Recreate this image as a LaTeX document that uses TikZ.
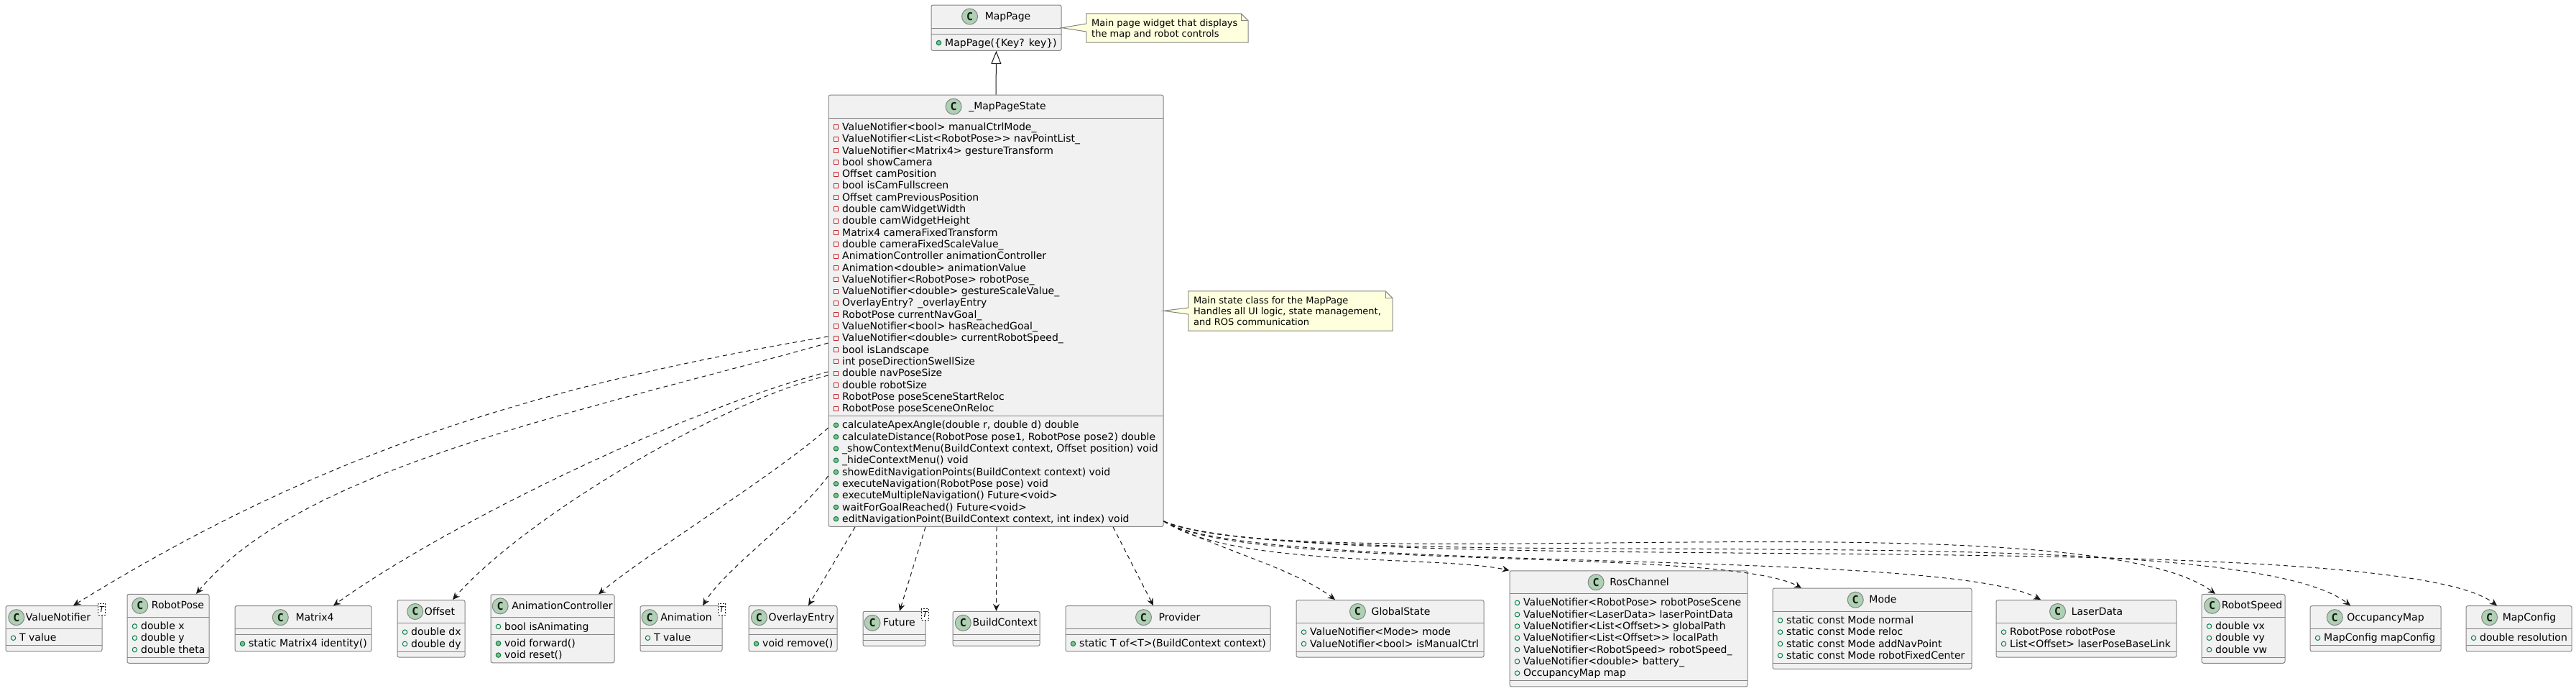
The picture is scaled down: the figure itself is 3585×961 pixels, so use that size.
\documentclass[tikz,border=0pt]{standalone}
\usepackage{fontspec}
\setmainfont{DejaVu Sans}
\newfontfamily\badgefont{DejaVu Sans Mono}
\usetikzlibrary{arrows.meta,fit,calc}
\definecolor{cfill}{HTML}{F1F1F1}
\definecolor{cborder}{HTML}{858585}
\definecolor{cdark}{HTML}{181818}
\definecolor{cbadge}{HTML}{ADD1B2}
\definecolor{cpriv}{HTML}{C82930}
\definecolor{cpubline}{HTML}{038048}
\definecolor{cpubfill}{HTML}{84BE84}
\definecolor{cnote}{HTML}{FEFFDD}
\tikzset{
 clsbox/.style={draw=cborder, fill=cfill, line width=1pt, rounded corners=2.5pt, inner sep=0pt},
 sepline/.style={draw=cborder, line width=1pt},
 clstitle/.style={inner sep=0pt, font=\fontsize{14pt}{16pt}\selectfont, text=black},
 badge/.style={circle, draw=cborder, fill=cbadge, line width=1pt, minimum size=22pt, inner sep=0pt, font=\badgefont\bfseries\fontsize{15pt}{15pt}\selectfont, text=cdark},
 member/.style={anchor=base west, inner sep=0pt, font=\fontsize{14pt}{16pt}\selectfont, text=black},
 privicon/.style={rectangle, draw=cpriv, line width=1pt, minimum size=6pt, inner sep=0pt},
 pubfield/.style={circle, draw=cpubline, line width=1pt, minimum size=6.5pt, inner sep=0pt},
 pubmeth/.style={circle, draw=cpubline, fill=cpubfill, line width=1pt, minimum size=6.5pt, inner sep=0pt},
 tmplbox/.style={draw=cdark, dash pattern=on 2pt off 2pt, fill=white, line width=0.8pt, minimum width=10pt, minimum height=16pt, inner sep=0pt, font=\itshape\fontsize{11pt}{12pt}\selectfont},
 dep/.style={draw=cdark, line width=1pt, dash pattern=on 6pt off 5pt, -{Stealth[length=10pt,width=9pt,inset=3.5pt]}},
 inherit/.style={draw=cdark, line width=1pt, -{Triangle[length=18pt,width=14pt,fill=white]}},
 notefit/.style={inner sep=0pt},
 notebg/.style={draw=cborder, fill=cnote, line width=1pt, line join=miter},
 foldline/.style={draw=cborder, line width=1pt},
 notetext/.style={anchor=base west, inner sep=0pt, font=\fontsize{13pt}{15pt}\selectfont, text=black},
}
\def\umlshift{0}
% [gap]{name}{x1}{x2}{center y}{n attrs}{n methods}{title}
\newcommand{\clsbox}[8][8]{%
  \pgfmathsetmacro\umlhA{ifthenelse(#6==0,8,16.3*#6+7)}%
  \pgfmathsetmacro\umlhM{ifthenelse(#7==0,8,16.3*#7+7)}%
  \pgfmathsetmacro\umlH{32+\umlhA+\umlhM}%
  \pgfmathsetmacro\umlcT{#5-\umlH/2}%
  \pgfmathsetmacro\umlcB{#5+\umlH/2}%
  \pgfmathsetmacro\umlsAtmp{\umlcT+32}%
  \pgfmathsetmacro\umlsBtmp{\umlsAtmp+\umlhA}%
  \pgfmathsetmacro\umlcX{(#3+#4)/2+\umlshift+(22+#1)/2}%
  \xdef\umlname{#2}\xdef\umlxl{#3}\xdef\umlsA{\umlsAtmp}\xdef\umlsB{\umlsBtmp}%
  \node[clsbox, fit={(#3,\umlcT) (#4,\umlcB)}] (#2) {};
  \draw[sepline] (#3,\umlsA) -- (#4,\umlsA);
  \draw[sepline] (#3,\umlsB) -- (#4,\umlsB);
  \node[clstitle, anchor=base] (#2-t) at (\umlcX,\umlcT+20.5) {#8};
  \node[badge] (#2-c) at ([xshift=-#1pt-11pt, yshift=4.5pt]#2-t.base west) {C};
}
\newcommand{\clsattrs}[2]{%
  \foreach \mtext [count=\i from 0] in {#2} {%
    \pgfmathsetmacro\umlyy{\umlsA+17.2+16.3*\i}%
    \node[#1] (\umlname-ai\i) at (\umlxl+10.5,\umlyy-4.6) {};%
    \node[member] (\umlname-a\i) at (\umlxl+19,\umlyy) {\mtext};%
  }%
}
\newcommand{\clsmeths}[1]{%
  \foreach \mtext [count=\i from 0] in {#1} {%
    \pgfmathsetmacro\umlyy{\umlsB+17.2+16.3*\i}%
    \node[pubmeth] (\umlname-mi\i) at (\umlxl+10.5,\umlyy-4.6) {};%
    \node[member] (\umlname-m\i) at (\umlxl+19,\umlyy) {\mtext};%
  }%
}
\newcommand{\clstmpl}[1]{\node[tmplbox] (#1-T) at ([xshift=-1pt,yshift=-5pt]#1.north east) {T};}

\begin{document}
\begin{tikzpicture}[x=1pt,y=-1pt]
\useasboundingbox (0,0) rectangle (3585,961);
\fill[white] (0,0) rectangle (3585,961);

% ---- top classes
\clsbox[10]{mp}{1296}{1477}{38.65}{0}{1}{MapPage}
\clsmeths{MapPage(\{Key? key\})}

\clsbox[10]{mps}{1153}{1619}{432.3}{25}{9}{\_MapPageState}
\clsattrs{privicon}{ValueNotifier<bool> manualCtrlMode\_, ValueNotifier<List<RobotPose>{}> navPointList\_, ValueNotifier<Matrix4> gestureTransform, bool showCamera, Offset camPosition, bool isCamFullscreen, Offset camPreviousPosition, double camWidgetWidth, double camWidgetHeight, Matrix4 cameraFixedTransform, double cameraFixedScaleValue\_, AnimationController animationController, Animation<double> animationValue, ValueNotifier<RobotPose> robotPose\_, ValueNotifier<double> gestureScaleValue\_, OverlayEntry? \_overlayEntry, RobotPose currentNavGoal\_, ValueNotifier<bool> hasReachedGoal\_, ValueNotifier<double> currentRobotSpeed\_, bool isLandscape, int poseDirectionSwellSize, double navPoseSize, double robotSize, RobotPose poseSceneStartReloc, RobotPose poseSceneOnReloc}
\clsmeths{{calculateApexAngle(double r, double d) double}, {calculateDistance(RobotPose pose1, RobotPose pose2) double}, {\_showContextMenu(BuildContext context, Offset position) void}, \_hideContextMenu() void, {showEditNavigationPoints(BuildContext context) void}, executeNavigation(RobotPose pose) void, executeMultipleNavigation() Future<void>, waitForGoalReached() Future<void>, {editNavigationPoint(BuildContext context, int index) void}}

% ---- notes
\node[notefit, fit={(1512,19) (1737,59)}] (n1) {};
\path[notebg] (n1.north west) -- ([xshift=-10pt]n1.north east) -- ([yshift=-10pt]n1.north east) -- (n1.south east) -- (n1.south west) -- ([yshift=-5pt]n1.west) -- (mp.east) -- ([yshift=6pt]n1.west) -- cycle;
\draw[foldline] ([xshift=-10pt]n1.north east) -- ([xshift=-10pt,yshift=-10pt]n1.north east) -- ([yshift=-10pt]n1.north east);
\node[notetext] (n1a) at (1519,36.5) {Main page widget that displays};
\node[notetext] (n1b) at (1519,51.5) {the map and robot controls};

\node[notefit, fit={(1654,405) (1938,460)}] (n2) {};
\path[notebg] (n2.north west) -- ([xshift=-10pt]n2.north east) -- ([yshift=-10pt]n2.north east) -- (n2.south east) -- (n2.south west) -- ([yshift=-4.5pt]n2.west) -- (mps.east) -- ([yshift=4.5pt]n2.west) -- cycle;
\draw[foldline] ([xshift=-10pt]n2.north east) -- ([xshift=-10pt,yshift=-10pt]n2.north east) -- ([yshift=-10pt]n2.north east);
\node[notetext] (n2a) at (1661,422) {Main state class for the MapPage};
\node[notetext] (n2b) at (1661,437) {Handles all UI logic, state management,};
\node[notetext] (n2c) at (1661,452) {and ROS communication};

% ---- bottom row
\def\umlshift{-6}
\clsbox[2]{vn}{8}{142}{874.3}{1}{0}{ValueNotifier}
\clsattrs{pubfield}{T value}
\clstmpl{vn}
\def\umlshift{0}

\clsbox[5]{rp}{177}{291}{874.3}{3}{0}{RobotPose}
\clsattrs{pubfield}{double x, double y, double theta}

\clsbox[10]{m4}{327}{517}{874.3}{0}{1}{Matrix4}
\clsmeths{static Matrix4 identity()}

\clsbox[2]{of}{553}{647}{874.3}{2}{0}{Offset}
\clsattrs{pubfield}{double dx, double dy}

\clsbox[5]{ac}{683}{855}{874.3}{1}{2}{AnimationController}
\clsattrs{pubfield}{bool isAnimating}
\clsmeths{void forward(), void reset()}

\def\umlshift{-6}
\clsbox[4]{an}{891}{1005}{874.3}{1}{0}{Animation}
\clsattrs{pubfield}{T value}
\clstmpl{an}
\def\umlshift{0}

\clsbox[2]{oe}{1042}{1165}{874.3}{0}{1}{OverlayEntry}
\clsmeths{void remove()}

\def\umlshift{-6}
\clsbox[4]{fu}{1201}{1288}{874.3}{0}{0}{Future}
\clstmpl{fu}
\def\umlshift{0}

\clsbox[2]{bc}{1326}{1447}{874.3}{0}{0}{BuildContext}

\clsbox[10]{pr}{1483}{1768}{874.3}{0}{1}{Provider}
\clsmeths{static T of<T>(BuildContext context)}

\clsbox[8]{gs}{1804}{2065}{874.3}{2}{0}{GlobalState}
\clsattrs{pubfield}{ValueNotifier<Mode> mode, ValueNotifier<bool> isManualCtrl}

\clsbox[8]{rc}{2101}{2432}{874.3}{7}{0}{RosChannel}
\clsattrs{pubfield}{ValueNotifier<RobotPose> robotPoseScene, ValueNotifier<LaserData> laserPointData, ValueNotifier<List<Offset>{}> globalPath, ValueNotifier<List<Offset>{}> localPath, ValueNotifier<RobotSpeed> robotSpeed\_, ValueNotifier<double> battery\_, OccupancyMap map}

\clsbox[8]{mo}{2467}{2744}{874.3}{4}{0}{Mode}
\clsattrs{pubfield}{static const Mode normal, static const Mode reloc, static const Mode addNavPoint, static const Mode robotFixedCenter}

\clsbox[8]{ld}{2778}{3029}{874.3}{2}{0}{LaserData}
\clsattrs{pubfield}{RobotPose robotPose, List<Offset> laserPoseBaseLink}

\clsbox[2]{rs}{3064}{3180}{874.3}{3}{0}{RobotSpeed}
\clsattrs{pubfield}{double vx, double vy, double vw}

\clsbox[6]{om}{3215}{3397}{874.3}{1}{0}{OccupancyMap}
\clsattrs{pubfield}{MapConfig mapConfig}

\clsbox[7]{mc}{3432}{3579}{874.3}{1}{0}{MapConfig}
\clsattrs{pubfield}{double resolution}

% ---- connectors
\draw[inherit] (mps.north) -- (mp.south);

\draw[dep] ([yshift=-35.7pt]mps.west) .. controls (752,536) and (452,626) .. ([xshift=27pt]vn.north);
\draw[dep] ([yshift=-44.7pt]mps.west) .. controls (800,575) and (420,650) .. ([xshift=39pt]rp.north);
\draw[dep] ([yshift=-84.7pt]mps.west) .. controls (950,570) and (620,730) .. ([xshift=42pt]m4.north);
\draw[dep] ([yshift=-89.7pt]mps.west) .. controls (1000,560) and (730,720) .. ([xshift=30pt]of.north);
\draw[dep] ([yshift=-162.7pt]mps.west) .. controls (1080,660) and (900,770) .. ([xshift=64pt]ac.north);
\draw[dep] ([yshift=-229.7pt]mps.west) .. controls (1110,720) and (1010,790) .. ([xshift=30pt]an.north);
\draw[dep] ([xshift=-196pt]mps.south) -- ([xshift=21.5pt]oe.north);
\draw[dep] ([xshift=-98pt]mps.south) -- ([xshift=7.5pt]fu.north);
\draw[dep] ([xshift=1pt]mps.south) -- (bc.north);
\draw[dep] ([xshift=163pt]mps.south) -- ([xshift=-20.5pt]pr.north);

\draw[dep] ([yshift=8pt]mps.south east) .. controls (1690,762) and (1800,790) .. ([xshift=-76.5pt]gs.north);
\draw[dep] ([yshift=8pt]mps.south east) .. controls (1720,790) and (2000,772) .. (rc.north west);
\draw[dep] ([yshift=8pt]mps.south east) .. controls (1730,795) and (2400,760) .. ([xshift=-98.5pt]mo.north);
\draw[dep] ([yshift=8pt]mps.south east) .. controls (1740,800) and (2700,760) .. ([xshift=-63.5pt]ld.north);
\draw[dep] ([yshift=8pt]mps.south east) .. controls (1800,805) and (2900,690) .. ([xshift=-39pt]rs.north);
\draw[dep] ([yshift=8pt]mps.south east) .. controls (1810,806) and (3100,710) .. ([xshift=-35pt]om.north);
\draw[dep] ([yshift=8pt]mps.south east) .. controls (1820,808) and (3320,725) .. ([xshift=-30.5pt]mc.north);
\end{tikzpicture}
\end{document}
